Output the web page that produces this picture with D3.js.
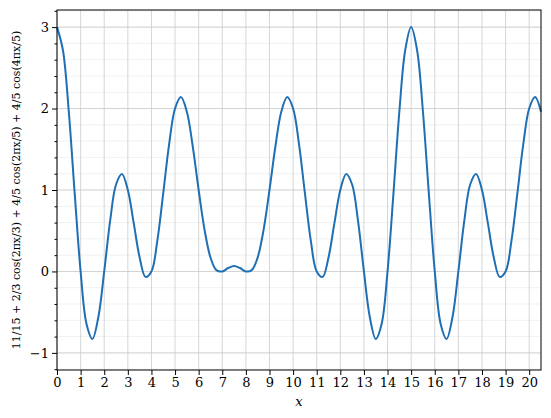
<!DOCTYPE html>
<html><head><meta charset="utf-8">
<script src="https://cdn.jsdelivr.net/npm/d3@7"></script>
<style>body{margin:0;background:#fff}text{font-family:"DejaVu Serif",serif}</style>
</head><body><div id="chart"></div>
<script>
// sampled every 0.25 from x=0 to x=20.5
const xStep = 0.25;
const yValues = [3.000,2.719,1.961,0.956,0.000,-0.644,-0.828,-0.562,0.000,0.620,1.067,1.197,1.000,0.593,0.172,-0.067,0.000,0.379,0.961,1.564,2.000,2.141,1.961,1.534,1.000,0.511,0.172,0.016,0.000,0.042,0.067,
  0.042,0.000,0.016,0.172,0.511,1.000,1.534,1.961,2.141,2.000,1.564,0.961,0.379,0.000,-0.067,0.172,0.593,1.000,1.197,1.067,0.620,0.000,-0.562,-0.828,-0.644,0.000,0.956,1.961,2.719,3.000,
  2.719,1.961,0.956,0.000,-0.644,-0.828,-0.562,0.000,0.620,1.067,1.197,1.000,0.593,0.172,-0.067,0.000,0.379,0.961,1.564,2.000,2.141,1.961];
const xTicks = d3.range(0, 21);
const yTicks = [-1, 0, 1, 2, 3];
const yMinor = d3.range(-1.2, 3.21, 0.2).map(v => +v.toFixed(1));

const W = 551, H = 418, m = {l: 57, r: 10, t: 10, b: 48};
const x = d3.scaleLinear().domain([0, 20.5]).range([m.l, W - m.r]);
const y = d3.scaleLinear().domain([-1.21, 3.21]).range([H - m.b, m.t]);

const svg = d3.select("#chart").append("svg").attr("width", W).attr("height", H);

svg.append("g").selectAll("line").data(yMinor).join("line")
  .attr("x1", m.l).attr("x2", W - m.r).attr("y1", d => y(d)).attr("y2", d => y(d))
  .attr("stroke", "#eeeeee").attr("stroke-width", 0.8);
svg.append("g").selectAll("line").data(xTicks).join("line")
  .attr("x1", d => x(d)).attr("x2", d => x(d)).attr("y1", m.t).attr("y2", H - m.b)
  .attr("stroke", "#cccccc").attr("stroke-width", 0.8);
svg.append("g").selectAll("line").data(yTicks).join("line")
  .attr("x1", m.l).attr("x2", W - m.r).attr("y1", d => y(d)).attr("y2", d => y(d))
  .attr("stroke", "#cccccc").attr("stroke-width", 0.8);

const gx = svg.append("g").attr("transform", `translate(0,${H - m.b})`)
  .call(d3.axisBottom(x).tickValues(xTicks).tickSize(5).tickSizeOuter(0));
const gy = svg.append("g").attr("transform", `translate(${m.l},0)`)
  .call(d3.axisLeft(y).tickValues(yTicks).tickSize(5).tickSizeOuter(0).tickFormat(d => d < 0 ? "\u2212" + (-d) : d));
svg.append("g").attr("transform", `translate(${m.l},0)`)
  .call(d3.axisLeft(y).tickValues(yMinor.filter(v => !yTicks.includes(v))).tickSize(2.5).tickFormat(""))
  .select(".domain").remove();
[gx, gy].forEach(g => {
  g.selectAll("text").attr("font-size", 13).attr("fill", "#000");
  g.select(".domain").remove();
});

svg.append("path").datum(yValues)
  .attr("fill", "none").attr("stroke", "#1f6fb4").attr("stroke-width", 2)
  .attr("d", d3.line().x((d, i) => x(i * xStep)).y(d => y(d)).curve(d3.curveCatmullRom));

svg.append("rect").attr("x", m.l).attr("y", m.t).attr("width", W - m.l - m.r).attr("height", H - m.t - m.b)
  .attr("fill", "none").attr("stroke", "#000").attr("stroke-width", 1);

svg.append("text").attr("x", (m.l + W - m.r) / 2).attr("y", H - 12).attr("text-anchor", "middle")
  .attr("font-size", 13).attr("font-style", "italic").text("x");
svg.append("text").attr("transform", `translate(20,${(m.t + H - m.b) / 2}) rotate(-90)`)
  .attr("text-anchor", "middle").attr("font-size", 11)
  .text("11/15 + 2/3 cos(2\u03c0x/3) + 4/5 cos(2\u03c0x/5) + 4/5 cos(4\u03c0x/5)");
</script></body></html>
